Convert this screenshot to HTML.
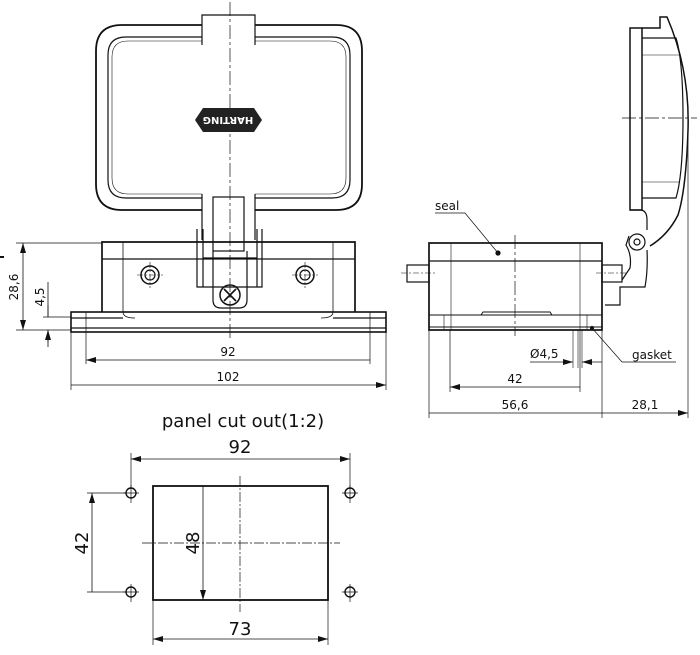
<!DOCTYPE html>
<html><head><meta charset="utf-8"><style>
html,body{margin:0;padding:0;background:#fff;}
svg{display:block;}
text{font-family:"DejaVu Sans","Liberation Sans",sans-serif;fill:#111;}
</style></head><body>
<svg width="700" height="655" viewBox="0 0 700 655" xmlns="http://www.w3.org/2000/svg">
<defs>
<marker id="a" viewBox="0 0 10 6" refX="10" refY="3" markerWidth="10" markerHeight="6" orient="auto-start-reverse" markerUnits="userSpaceOnUse"><path d="M0,0 L10,3 L0,6 z" fill="#111"/></marker>
</defs>
<g fill="none" stroke="#111" stroke-width="1.2">
<!-- ===== FRONT VIEW ===== -->
<path d="M202,25 L122,25 Q96,25 96,51 L96,184 Q96,210 122,210 L202,210 M255,210 L336,210 Q362,210 362,184 L362,51 Q362,25 336,25 L255,25" stroke-width="1.8"/>
<path d="M202,37 L126,37 Q108,37 108,55 L108,180 Q108,198 126,198 L202,198 M255,198 L332,198 Q350,198 350,180 L350,55 Q350,37 332,37 L255,37"/>
<path d="M202,41 L128,41 Q112,41 112,57 L112,178 Q112,194 128,194 L202,194 M255,194 L330,194 Q346,194 346,178 L346,57 Q346,41 330,41 L255,41" stroke-width="0.6"/>
<path d="M202,45 L202,15 L255,15 L255,45"/>
<path d="M202,194 L202,240 M255,194 L255,240"/>
<rect x="213" y="197" width="31" height="54"/>
<path d="M197,229 L197,287 L255,287 L262,287 L262,229 M203,229 L203,287 M257,229 L257,287 M203,258 L257,258 M213,251 L213,300 Q213,308 221,308 L239,308 Q247,308 247,300 L247,251"/>
<circle cx="230" cy="295" r="10" stroke-width="1.5"/>
<path d="M224,289 L236,301 M236,289 L224,301" stroke-width="1.6"/>
<path d="M102,312 L102,242 L355,242 L355,312" stroke-width="1.7"/>
<path d="M102,259 L355,259"/>
<path d="M123,242 L123,312 Q123,318 135,318 M333,242 L333,312 Q333,318 321,318" stroke-width="0.8"/>
<rect x="71" y="312" width="315" height="20" stroke-width="1.6"/>
<path d="M71,318 L123,318 M333,318 L386,318 M71,328 L386,328"/>
<circle cx="150" cy="275" r="9" stroke-width="1.5"/><circle cx="150" cy="275" r="5"/>
<circle cx="305" cy="275" r="9" stroke-width="1.5"/><circle cx="305" cy="275" r="5"/>
<path d="M137,275 L163,275 M150,262 L150,288 M292,275 L318,275 M305,262 L305,288" stroke-width="0.6" stroke-dasharray="6,2,2,2"/>
<path d="M230,2 L230,338" stroke-width="0.7" stroke-dasharray="14,3,3,3"/>
<path d="M86,312 L86,364 M370,312 L370,364 M71,332 L71,390 M386,332 L386,390" stroke-width="0.7"/>
<path d="M86,360 L370,360 M71,385 L386,385" stroke-width="0.8" marker-start="url(#a)" marker-end="url(#a)"/>
<path d="M16,243 L102,243 M16,330 L71,330 M43,317 L71,317" stroke-width="0.7"/>
<path d="M23,243 L23,330" stroke-width="0.8" marker-start="url(#a)" marker-end="url(#a)"/>
<path d="M48,282 L48,317 M48,330 L48,347" stroke-width="0.8"/>
<path d="M48,305 L48,317 M48,342 L48,330" marker-end="url(#a)" stroke-width="0.8"/>
<path d="M0,257 L4,257" stroke-width="2"/>

<!-- ===== SIDE VIEW ===== -->
<path d="M630,210 L630,28 L642,28 L642,210 Z" stroke-width="1.5"/>
<path d="M642,28 L660,28 L660,17 L667,17 Q690,70 688,130 Q686,190 678,215 Q668,235 650,246" stroke-width="1.5"/>
<path d="M642,38 L676,38 Q683,60 683,118 Q683,175 676,198 L642,198"/>
<path d="M642,55 L680,55 M642,182 L680,182" stroke-width="0.6"/>
<path d="M630,210 L640,210 Q647,210 647,220 L647,230"/>
<circle cx="637" cy="242" r="8"/><circle cx="637" cy="242" r="3"/>
<path d="M629,236 L626,245 Q632,255 630,268 L622,280 M647,250 Q648,270 645,287 L620,287 L620,305 L605,305"/>
<path d="M622,118 L697,118" stroke-width="0.7" stroke-dasharray="14,3,3,3"/>
<rect x="429" y="243" width="173" height="87" stroke-width="1.7"/>
<path d="M429,261 L602,261"/>
<path d="M429,315 L602,315 M481,315 L483,312 L550,312 L552,315 M429,327 L602,327" stroke-width="1"/>
<path d="M451,243 L451,330 M580,243 L580,330 M444,315 L444,330 M587,315 L587,330" stroke-width="0.6"/>
<rect x="407" y="265" width="22" height="17"/>
<rect x="602" y="265" width="20" height="17"/>
<path d="M401,273 L436,273 M596,273 L628,273" stroke-width="0.6" stroke-dasharray="6,2,2,2"/>
<path d="M515,235 L515,336" stroke-width="0.7" stroke-dasharray="14,3,3,3"/>
<path d="M435,213 L465,213 L498,253" stroke-width="0.7"/>
<circle cx="498" cy="253" r="2" fill="#111"/>
<path d="M676,362 L622,362 L592,328" stroke-width="0.7"/>
<circle cx="592" cy="328" r="1.5" fill="#111"/>
<path d="M573,330 L573,368 M582,330 L582,368 M578,330 L578,368" stroke-width="0.6"/>
<path d="M530,362 L573,362" stroke-width="0.8" marker-end="url(#a)"/>
<path d="M602,362 L582,362" stroke-width="0.8" marker-end="url(#a)"/>
<path d="M450,330 L450,392 M580,330 L580,392 M429,330 L429,418 M602,330 L602,418 M688,118 L688,418" stroke-width="0.7"/>
<path d="M450,387 L580,387 M429,413 L602,413 M602,413 L688,413" stroke-width="0.8" marker-start="url(#a)" marker-end="url(#a)"/>

<!-- ===== PANEL CUT OUT ===== -->
<rect x="153" y="486" width="175" height="114" stroke-width="1.8"/>
<path d="M142,543 L340,543 M240,476 L240,612" stroke-width="0.7" stroke-dasharray="10,2,2,2"/>
<g stroke-width="1.4">
<circle cx="131" cy="493" r="5"/><circle cx="350" cy="493" r="5"/>
<circle cx="131" cy="592" r="5"/><circle cx="350" cy="592" r="5"/>
</g>
<path d="M123,493 L139,493 M131,485 L131,503 M342,493 L358,493 M350,485 L350,503 M123,592 L139,592 M131,584 L131,602 M342,592 L358,592 M350,584 L350,602" stroke-width="0.7"/>
<path d="M131,453 L131,488 M350,453 L350,488" stroke-width="0.7"/>
<path d="M131,459 L350,459" stroke-width="0.8" marker-start="url(#a)" marker-end="url(#a)"/>
<path d="M87,493 L126,493 M87,592 L126,592" stroke-width="0.7"/>
<path d="M92,493 L92,592 M203,486 L203,600" stroke-width="0.8" marker-start="url(#a)" marker-end="url(#a)"/>
<path d="M153,600 L153,645 M328,600 L328,645" stroke-width="0.7"/>
<path d="M153,639 L328,639" stroke-width="0.8" marker-start="url(#a)" marker-end="url(#a)"/>
</g>

<path d="M203,108 L254,108 L262,120 L254,132 L203,132 L195,120 Z" fill="#222"/>
<text x="228" y="120" font-size="10" font-weight="bold" text-anchor="middle" dominant-baseline="middle" transform="rotate(180 228 120)" style="fill:#fff">HARTING</text>

<text x="228" y="356" font-size="12" text-anchor="middle">92</text>
<text x="228" y="381" font-size="12" text-anchor="middle">102</text>
<text x="18" y="287" font-size="12" text-anchor="middle" transform="rotate(-90 18 287)">28,6</text>
<text x="44" y="297" font-size="12" text-anchor="middle" transform="rotate(-90 44 297)">4,5</text>
<text x="435" y="210" font-size="12">seal</text>
<text x="632" y="359" font-size="12">gasket</text>
<text x="530" y="358" font-size="12">Ø4,5</text>
<text x="515" y="383" font-size="12" text-anchor="middle">42</text>
<text x="515" y="409" font-size="12" text-anchor="middle">56,6</text>
<text x="645" y="409" font-size="12" text-anchor="middle">28,1</text>
<text x="243" y="427" font-size="18" text-anchor="middle">panel cut out(1:2)</text>
<text x="240" y="453" font-size="18" text-anchor="middle">92</text>
<text x="240" y="635" font-size="18" text-anchor="middle">73</text>
<text x="88" y="543" font-size="18" text-anchor="middle" transform="rotate(-90 88 543)">42</text>
<text x="199" y="543" font-size="18" text-anchor="middle" transform="rotate(-90 199 543)">48</text>
</svg>
</body></html>
